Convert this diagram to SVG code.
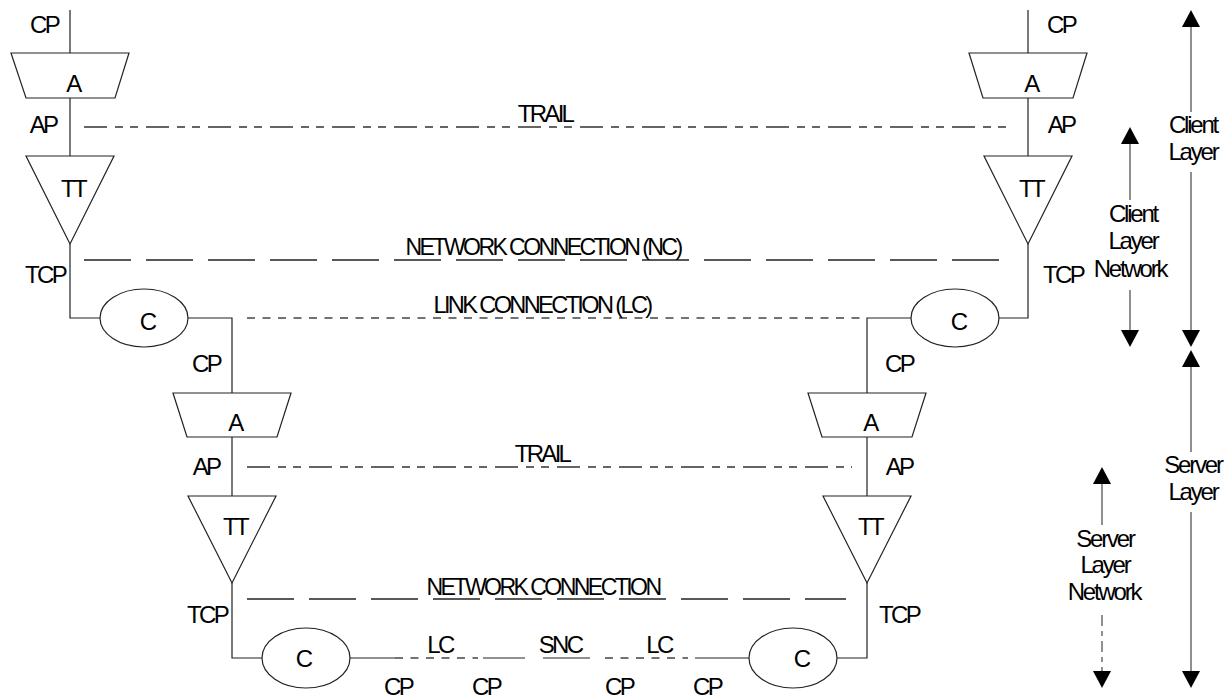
<svg xmlns="http://www.w3.org/2000/svg" width="1226" height="700" viewBox="0 0 1226 700">
<style>
text{font-family:"Liberation Sans",Arial,sans-serif;font-size:24px;fill:#000;text-anchor:middle;letter-spacing:-2.7px}
.side{letter-spacing:-2.2px}
.shape{fill:#fff;stroke:#222;stroke-width:1.2}
.ln{fill:none;stroke:#222;stroke-width:1.2}
.trail{fill:none;stroke:#333;stroke-width:1.3;stroke-dasharray:23 8 8 7 8 8}
.nc{fill:none;stroke:#222;stroke-width:1.3;stroke-dasharray:47 15}
.lc{fill:none;stroke:#444;stroke-width:1.3;stroke-dasharray:8 7.5}
.arr{fill:none;stroke:#555;stroke-width:1.3}
</style>
<defs>
<path id="up" d="M0,0 L9,17 L-9,17 Z"/>
<path id="down" d="M0,0 L9,-17 L-9,-17 Z"/>
</defs>

<g id="connectors">
<path class="ln" d="M70,10 V53 M70,98 V156 M70,244 V318 H100 M188,318 H232 V393 M232,437 V496 M232,583 V658 H262"/>
<path class="ln" d="M1028,10 V53 M1028,98 V156 M1028,244 V318 H999 M911,318 H867 V393 M867,437 V496 M867,583 V658 H837"/>
<path class="trail" d="M84,127 H1013"/>
<path class="nc" d="M84,260 H1014"/>
<path class="lc" d="M247,318 H861"/>
<path class="trail" d="M247,467 H852"/>
<path class="nc" d="M247,599 H846"/>
<path class="ln" d="M350,658 H395 M483,658 H525 M543,658 H590 M695,658 H749"/>
<path class="lc" d="M395,658 H478 M605,658 H688"/>
</g>

<g id="client-A-left"><polygon class="shape" points="11,53 129,53 115,98 26,98"/><text x="73" y="92">A</text></g>
<g id="client-TT-left"><polygon class="shape" points="26,156 114,156 70,244"/><text x="73" y="197">TT</text></g>
<g id="client-C-left"><ellipse class="shape" cx="144" cy="318" rx="44" ry="29"/><text x="147" y="330">C</text></g>
<g id="client-A-right"><polygon class="shape" points="969,53 1087,53 1073,98 983,98"/><text x="1031" y="92">A</text></g>
<g id="client-TT-right"><polygon class="shape" points="984,156 1072,156 1028,244"/><text x="1031" y="197">TT</text></g>
<g id="client-C-right"><ellipse class="shape" cx="955" cy="318" rx="44" ry="29"/><text x="958" y="330">C</text></g>

<g id="server-A-left"><polygon class="shape" points="173,393 291,393 277,437 187,437"/><text x="235" y="431">A</text></g>
<g id="server-TT-left"><polygon class="shape" points="188,496 276,496 232,583"/><text x="235" y="535">TT</text></g>
<g id="server-C-left"><ellipse class="shape" cx="306" cy="658" rx="44" ry="30"/><text x="303" y="667">C</text></g>
<g id="server-A-right"><polygon class="shape" points="808,393 926,393 912,437 822,437"/><text x="870" y="431">A</text></g>
<g id="server-TT-right"><polygon class="shape" points="823,496 911,496 867,583"/><text x="870" y="535">TT</text></g>
<g id="server-C-right"><ellipse class="shape" cx="793" cy="658" rx="44" ry="30"/><text x="801" y="667">C</text></g>

<g id="labels">
<text x="44" y="33">CP</text>
<text x="43" y="133">AP</text>
<text x="45" y="283">TCP</text>
<text x="1061" y="33">CP</text>
<text x="1061" y="133">AP</text>
<text x="1063" y="283">TCP</text>
<text x="545" y="122">TRAIL</text>
<text x="543" y="255" textLength="275" lengthAdjust="spacingAndGlyphs">NETWORK CONNECTION (NC)</text>
<text x="542" y="313" textLength="217" lengthAdjust="spacingAndGlyphs">LINK CONNECTION (LC)</text>
<text x="206" y="372">CP</text>
<text x="206" y="475">AP</text>
<text x="207" y="623">TCP</text>
<text x="899" y="372">CP</text>
<text x="899" y="475">AP</text>
<text x="899" y="623">TCP</text>
<text x="542" y="462">TRAIL</text>
<text x="543" y="595" textLength="233" lengthAdjust="spacingAndGlyphs">NETWORK CONNECTION</text>
<text x="440" y="653">LC</text>
<text x="560" y="653">SNC</text>
<text x="659" y="653">LC</text>
<text x="398" y="695">CP</text>
<text x="486" y="695">CP</text>
<text x="619" y="695">CP</text>
<text x="707" y="695">CP</text>
</g>

<g id="client-layer">
<path class="arr" d="M1191,27 V112 M1191,172 V330"/>
<use href="#up" x="1191" y="10"/><use href="#down" x="1191" y="347"/>
<text class="side" x="1193" y="133">Client</text><text class="side" x="1193" y="160">Layer</text>
</g>
<g id="client-layer-network">
<path class="arr" d="M1130,144 V200 M1130,290 V330"/>
<use href="#up" x="1130" y="127"/><use href="#down" x="1130" y="347"/>
<text class="side" x="1133" y="222">Client</text><text class="side" x="1133" y="249">Layer</text><text class="side" x="1130" y="277">Network</text>
</g>
<g id="server-layer">
<path class="arr" d="M1191,367 V452 M1191,512 V671"/>
<use href="#up" x="1191" y="350"/><use href="#down" x="1191" y="688"/>
<text class="side" x="1193" y="473">Server</text><text class="side" x="1193" y="500">Layer</text>
</g>
<g id="server-layer-network">
<path class="arr" d="M1102,484 V525"/>
<path class="arr" stroke-dasharray="11 5 5 5" d="M1102,615 V671"/>
<use href="#up" x="1102" y="467"/><use href="#down" x="1102" y="688"/>
<text class="side" x="1105" y="547">Server</text><text class="side" x="1105" y="573">Layer</text><text class="side" x="1104" y="600">Network</text>
</g>
</svg>
